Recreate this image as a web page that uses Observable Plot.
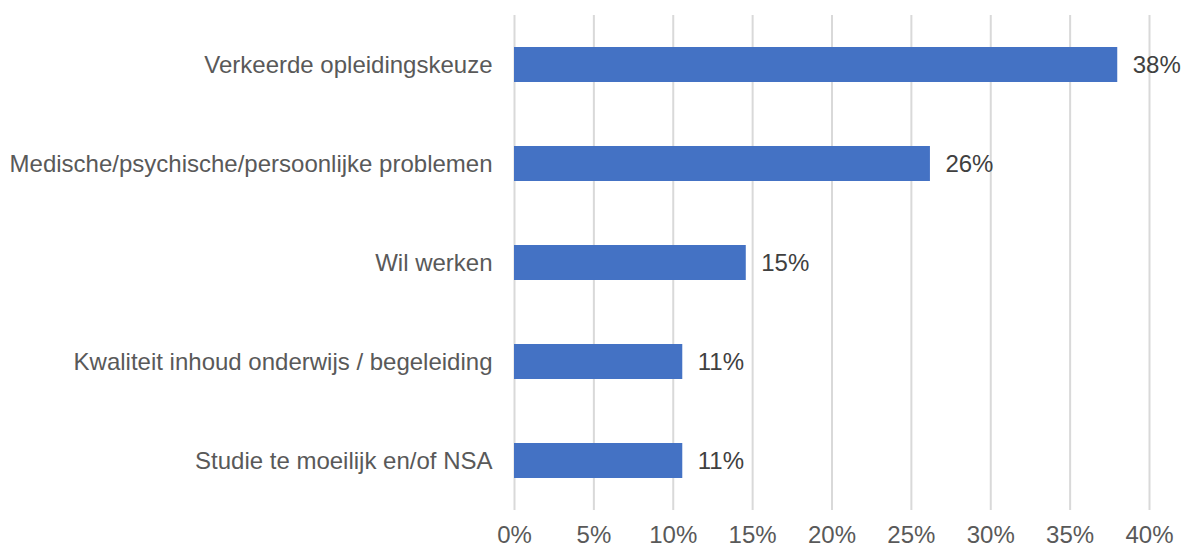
<!DOCTYPE html>
<html>
<head>
<meta charset="utf-8">
<script src="https://cdn.jsdelivr.net/npm/d3@7"></script>
<script src="https://cdn.jsdelivr.net/npm/@observablehq/plot@0.6"></script>
<style>
  html, body { margin: 0; padding: 0; background: #fff; }
  #chart svg { display: block; }
</style>
</head>
<body>
<div id="chart"></div>
<script>
const categories = [
  "Verkeerde opleidingskeuze",
  "Medische/psychische/persoonlijke problemen",
  "Wil werken",
  "Kwaliteit inhoud onderwijs / begeleiding",
  "Studie te moeilijk en/of NSA"
];
const values = [38.0, 26.2, 14.6, 10.6, 10.6];
const labels = ["38%", "26%", "15%", "11%", "11%"];
const xTicks = [0, 5, 10, 15, 20, 25, 30, 35, 40];

const data = categories.map((c, i) => ({cat: c, value: values[i], label: labels[i]}));

const chart = Plot.plot({
  width: 1183,
  height: 549,
  marginLeft: 514,
  marginRight: 34,
  marginTop: 15,
  marginBottom: 39,
  style: {fontFamily: "'Liberation Sans', Arial, sans-serif", fontSize: "24px", color: "#595959", background: "#fff"},
  x: {domain: [0, 40], ticks: xTicks, tickFormat: d => d + "%", label: null},
  y: {domain: categories, paddingInner: 0.65, paddingOuter: 0.325, label: null},
  marks: [
    Plot.gridX(xTicks, {stroke: "#d9d9d9", strokeOpacity: 1, strokeWidth: 2}),
    Plot.barX(data, {x: "value", y: "cat", fill: "#4472C4"}),
    Plot.text(data, {x: "value", y: "cat", text: "label", textAnchor: "start", dx: 15, fill: "#404040", fontSize: 24}),
    Plot.axisX({ticks: xTicks, tickFormat: d => d + "%", tickSize: 0, tickPadding: 15, fontSize: 24, fill: "#595959"}),
    Plot.axisY({tickSize: 0, tickPadding: 22, fontSize: 24, fill: "#595959"})
  ]
});
document.getElementById("chart").appendChild(chart);
</script>
</body>
</html>
